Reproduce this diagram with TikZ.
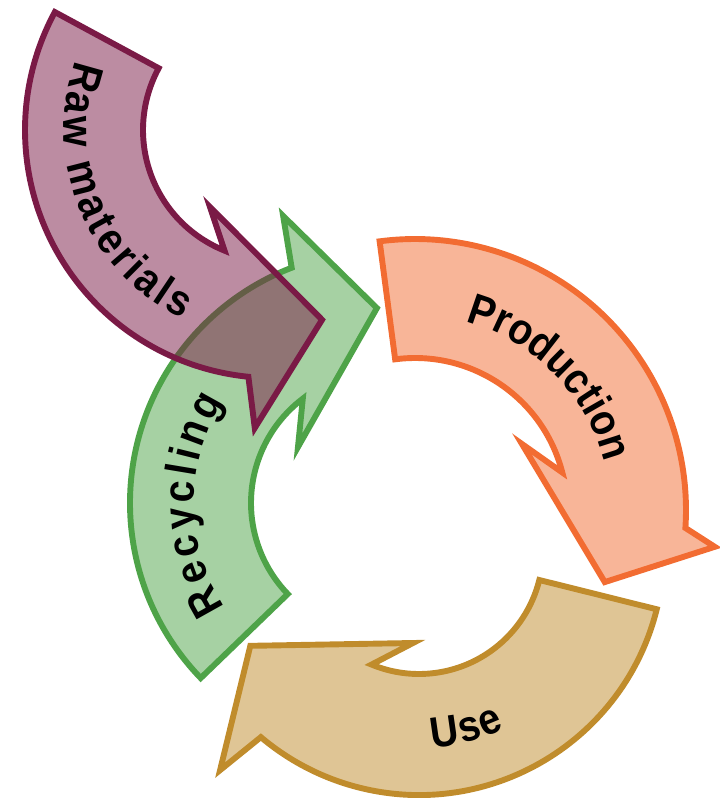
\documentclass[tikz,border=0pt]{standalone}
\usepackage{fontspec}
\newfontfamily\lblfont[FakeStretch=0.9]{Liberation Sans}
\usetikzlibrary{decorations.text}

\definecolor{rawcol}{RGB}{122,26,70}
\definecolor{prodcol}{RGB}{242,108,50}
\definecolor{usecol}{RGB}{192,140,44}
\definecolor{reccol}{RGB}{78,163,72}
\newcommand\lblstyle{\lblfont\bfseries\fontsize{31}{36}\selectfont}

\begin{document}
\begin{tikzpicture}[x=0.025cm,y=-0.025cm,line width=4.2pt,line join=miter]
        \tikzstyle{cycle arrow}=[fill opacity=.5, draw opacity=1]
        \tikzstyle{arrow label}=[decorate, decoration={text along path, text align={fit to path}}]

        \useasboundingbox (0,0) rectangle (720,798);

        \begin{scope}[shift={(415,510)}]
          \filldraw[cycle arrow, draw=prodcol, fill=prodcol] (-97.5:271) arc[start angle=-97.5, end angle=3.8, radius=271]
            -- (7:302) -- (20.8:203) -- (-31.7:125.7) -- (-14.3:152)
            arc[start angle=-14.3, end angle=-97.5, radius=152] -- cycle;
          \path[arrow label, decoration={text={|\lblstyle|Production}}] (-75:195) arc[start angle=-75, end angle=-16.2, radius=195];
        \end{scope}

        \begin{scope}[shift={(419,550)}]
          \filldraw[cycle arrow, draw=usecol, fill=usecol] (14:245) arc[start angle=14, end angle=130.2, radius=245]
            -- (132.1:296.7) -- (150.4:194) -- (93.7:93.2) -- (112.5:124)
            arc[start angle=112.5, end angle=14, radius=124] -- cycle;
          \path[arrow label, decoration={text={|\lblstyle|Use}}] (86:198) arc[start angle=86, end angle=64.5, radius=198];
        \end{scope}

        \begin{scope}[shift={(382,503)}]
          \filldraw[cycle arrow, draw=reccol, fill=reccol] (136:252) arc[start angle=136, end angle=249, radius=252]
            -- (251:303.6) -- (268.5:195) -- (213.7:101) -- (232.8:131)
            arc[start angle=232.8, end angle=136, radius=131] -- cycle;
          \path[arrow label, decoration={text={|\lblstyle|Recycling}}] (146.5:188) arc[start angle=146.5, end angle=212.7, radius=188];
        \end{scope}

        \begin{scope}[shift={(273,130)}]
          \filldraw[cycle arrow, draw=rawcol, fill=rawcol] (208.4:248) arc[start angle=208.4, end angle=95.7, radius=248]
            -- (93.5:298.5) -- (75.5:196) -- (129.3:99.5) -- (111.9:130)
            arc[start angle=111.9, end angle=208.4, radius=130] -- cycle;
          \path[arrow label, decoration={text={|\lblstyle|Raw materials}}] (199.5:209) arc[start angle=199.5, end angle=115.5, radius=209];
        \end{scope}
\end{tikzpicture}
\end{document}
